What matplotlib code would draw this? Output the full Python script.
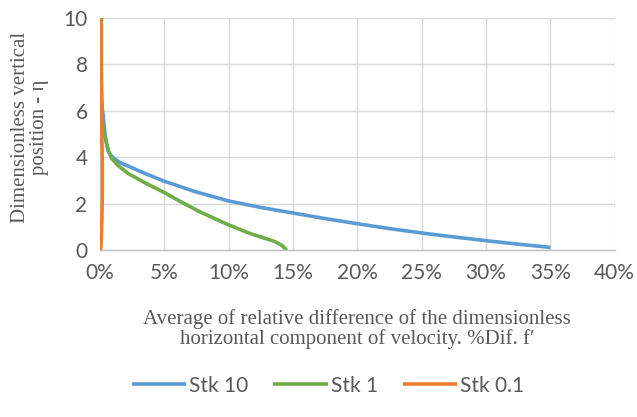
import matplotlib.pyplot as plt
from matplotlib.ticker import FuncFormatter

# profiles: eta vs. mean relative difference (%)
eta_stk10 = [10.0, 8.0, 7.0, 6.5, 6.1, 5.75, 5.3, 4.9, 4.55, 4.24, 4.06, 3.92, 3.76, 3.62,
             3.3, 2.97, 2.52, 2.12, 1.84, 1.6, 1.36, 1.14, 0.93, 0.74, 0.57, 0.41, 0.26, 0.12]
dif_stk10 = [0.1, 0.1, 0.11, 0.13, 0.18, 0.26, 0.33, 0.41, 0.52, 0.65, 0.88, 1.16, 1.6, 2.2,
             3.5, 5.0, 7.4, 10.0, 12.5, 15.0, 17.5, 20.0, 22.5, 25.0, 27.5, 30.0, 32.5, 35.0]

eta_stk1 = [10.0, 8.0, 7.0, 6.3, 5.9, 5.5, 5.1, 4.74, 4.3, 3.95, 3.6, 3.3, 2.9, 2.48,
            2.08, 1.64, 1.09, 0.73, 0.55, 0.39, 0.22, 0.07, 0.0]
dif_stk1 = [0.1, 0.1, 0.11, 0.13, 0.15, 0.19, 0.26, 0.45, 0.65, 0.9, 1.5, 2.2, 3.5, 5.0,
            6.3, 7.8, 10.0, 11.6, 12.6, 13.5, 14.1, 14.4, 14.5]

eta_stk01 = [10.0, 8.0, 6.5, 5.0, 4.0, 3.0, 2.0, 1.2, 0.6, 0.2, 0.0]
dif_stk01 = [0.05, 0.07, 0.1, 0.14, 0.17, 0.18, 0.17, 0.14, 0.1, 0.07, 0.06]

series = [
    ("Stk 10", dif_stk10, eta_stk10, "#5B9BD5"),
    ("Stk 1", dif_stk1, eta_stk1, "#70AD47"),
    ("Stk 0.1", dif_stk01, eta_stk01, "#ED7D31"),
]

fig = plt.figure(figsize=(6.37, 4.17), dpi=100)
ax = fig.add_axes([0.157, 0.400, 0.808, 0.557])

for label, x, y, color in series:
    ax.plot(x, y, color=color, lw=2.6, label=label, solid_capstyle="butt",
            solid_joinstyle="round")

ax.set_xlim(0, 40)
ax.set_ylim(0, 10)
ax.set_xticks(range(0, 41, 5))
ax.set_yticks(range(0, 11, 2))
ax.xaxis.set_major_formatter(FuncFormatter(lambda v, p: f"{v:.0f}%"))

ax.grid(True, color="#d9d9d9", lw=1.0)
ax.set_axisbelow(True)
for side in ("top", "right", "left"):
    ax.spines[side].set_visible(False)
ax.spines["bottom"].set_color("#bfbfbf")
ax.spines["bottom"].set_linewidth(1.0)
ax.tick_params(length=0, labelsize=15, colors="#595959")
ax.tick_params(axis="x", pad=9)
ax.tick_params(axis="y", pad=9)
for t in ax.get_xticklabels() + ax.get_yticklabels():
    t.set_fontfamily("Lato")

serif = dict(family="Liberation Serif", size=15, color="#595959")
fig.text(0.047, 0.695, "Dimensionless vertical\nposition - η", rotation=90,
         ha="center", va="center", linespacing=1.0, **serif)
fig.text(0.561, 0.21, "Average of relative difference of the dimensionless\nhorizontal component of velocity. %Dif. f\u2032",
         ha="center", va="center", linespacing=1.0, **serif)

leg = fig.legend(loc="center", bbox_to_anchor=(0.515, 0.075), ncol=3, frameon=False,
                 handlelength=2.6, columnspacing=1.2, handletextpad=0.15,
                 prop={"family": "Lato", "size": 15})
for txt in leg.get_texts():
    txt.set_color("#595959")

fig.savefig("out.png", dpi=100)
